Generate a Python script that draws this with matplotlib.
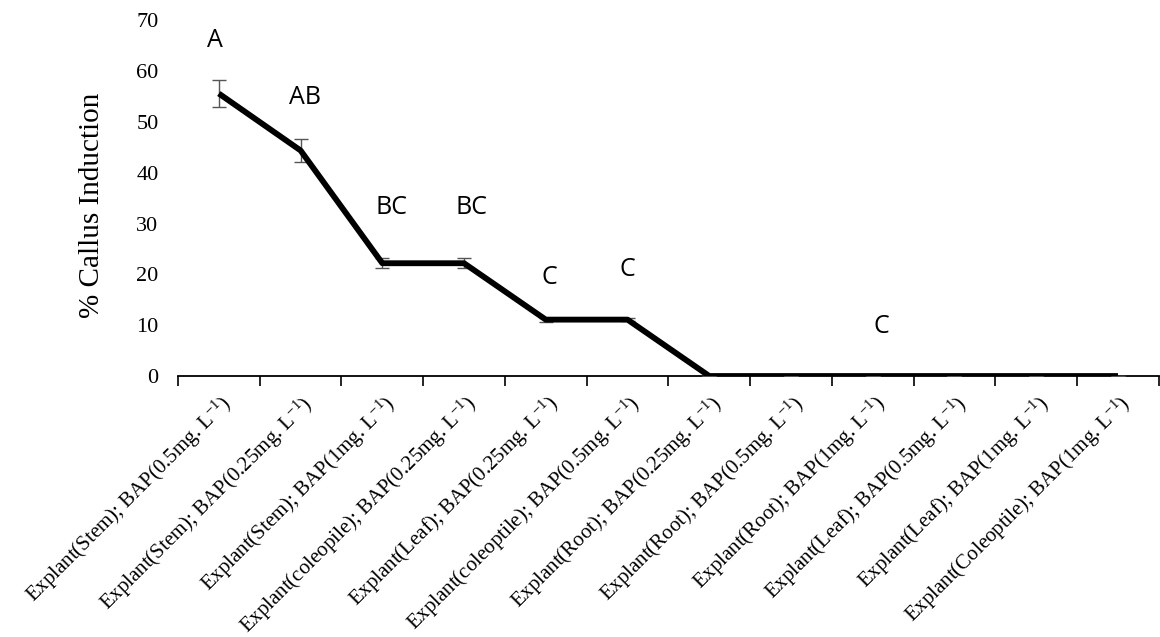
import matplotlib
matplotlib.use("Agg")
import matplotlib.pyplot as plt
import numpy as np

categories = [
    "Explant(Stem); BAP(0.5mg. L$^{-1}$)",
    "Explant(Stem); BAP(0.25mg. L$^{-1}$)",
    "Explant(Stem); BAP(1mg. L$^{-1}$)",
    "Explant(coleopile); BAP(0.25mg. L$^{-1}$)",
    "Explant(Leaf); BAP(0.25mg. L$^{-1}$)",
    "Explant(coleoptile); BAP(0.5mg. L$^{-1}$)",
    "Explant(Root); BAP(0.25mg. L$^{-1}$)",
    "Explant(Root); BAP(0.5mg. L$^{-1}$)",
    "Explant(Root); BAP(1mg. L$^{-1}$)",
    "Explant(Leaf); BAP(0.5mg. L$^{-1}$)",
    "Explant(Leaf); BAP(1mg. L$^{-1}$)",
    "Explant(Coleoptile); BAP(1mg. L$^{-1}$)",
]
callus = [55.6, 44.4, 22.2, 22.2, 11.1, 11.1, 0, 0, 0, 0, 0, 0]
errors = [2.7, 2.2, 1.0, 1.0, 0.4, 0.3, 0, 0, 0, 0, 0, 0]
letters = ["A", "AB", "BC", "BC", "C", "C", "C"]
letter_x = [0.45, 1.55, 2.61, 3.59, 4.55, 5.5, 8.61]
letter_y = [66.1, 54.9, 33.1, 33.1, 19.3, 20.9, 9.8]

plt.rcParams['mathtext.fontset'] = 'custom'
plt.rcParams['mathtext.rm'] = 'Liberation Serif'
plt.rcParams['mathtext.it'] = 'Liberation Serif:italic'
plt.rcParams['mathtext.default'] = 'rm'

fig = plt.figure(figsize=(11.6, 6.37), dpi=100)
ax = fig.add_axes([0.1534, 0.4097, 0.8456, 0.5583])

x = np.arange(len(categories)) + 0.5
ax.errorbar(x, callus, yerr=errors, color="black", lw=4.2,
            ecolor="#555555", elinewidth=1.0, capsize=5, capthick=1.0,
            solid_capstyle="butt", zorder=3)

for t, lx, ly in zip(letters, letter_x, letter_y):
    ax.text(lx, ly, t, ha="center", va="center", fontsize=18,
            family="Open Sans", color="black")

ax.set_xlim(0, len(categories))
ax.set_ylim(0, 70)
ax.set_yticks(np.arange(0, 71, 10))
ax.set_yticklabels([str(v) for v in range(0, 71, 10)], family="Liberation Serif", fontsize=16)
ax.tick_params(axis="y", length=0, pad=14)

ax.set_xticks(np.arange(0, len(categories) + 1))
ax.set_xticklabels([])
ax.tick_params(axis="x", which="major", length=7, width=1.2, direction="out", color="black")
ax.set_xticks(x, minor=True)
ax.set_xticklabels(categories, minor=True, rotation=45, ha="right",
                   rotation_mode="anchor", family="Liberation Serif", fontsize=15)
ax.tick_params(axis="x", which="minor", length=0, pad=11)

for s in ["top", "right", "left"]:
    ax.spines[s].set_visible(False)
ax.spines["bottom"].set_linewidth(1.3)

ax.set_ylabel("% Callus Induction", family="Liberation Serif", fontsize=21)
ax.yaxis.set_label_coords(-0.074, 0.48)

fig.savefig("out.png", dpi=100, facecolor="white")
